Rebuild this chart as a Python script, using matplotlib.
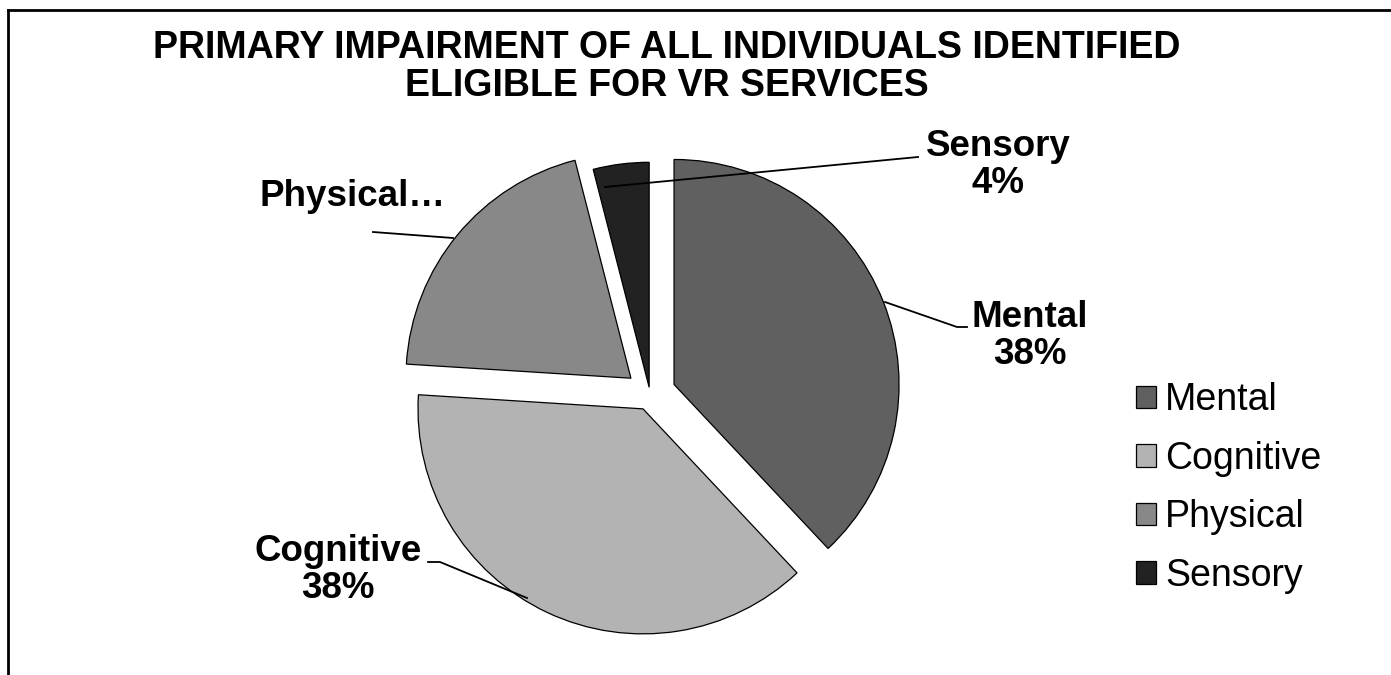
import matplotlib
matplotlib.use("Agg")
import matplotlib.pyplot as plt

plt.rcParams['font.family'] = ['Liberation Sans', 'DejaVu Sans']

# datos
categorias = ["Mental", "Cognitive", "Physical", "Sensory"]
porcentajes = [38, 38, 20, 4]
etiquetas = ["Mental\n38%", "Cognitive\n38%", "Physical…", "Sensory\n4%"]
colores = ["#606060", "#b3b3b3", "#888888", "#222222"]
separacion = [0.115, 0.073, 0.11, 0.03]  # fraccion del radio

W, H = 1391, 675
radio = 225


def py(y):
    # pixel y (desde arriba) -> coordenada de datos
    return H - y


fig = plt.figure(figsize=(W / 100, H / 100), dpi=100)
ax = fig.add_axes([0, 0, 1, 1])

wedges, _ = ax.pie(porcentajes, colors=colores, startangle=90, counterclock=False,
                   explode=[s * radio for s in separacion], radius=radio,
                   center=(650, py(394)),
                   wedgeprops=dict(edgecolor="black", linewidth=0.9))

ax.set_xlim(0, W)
ax.set_ylim(0, H)
ax.set_aspect("equal")
ax.axis("off")

# marco (solo arriba e izquierda visibles)
ax.plot([8, W], [py(10), py(10)], color="black", lw=2, clip_on=False)
ax.plot([8, 8], [py(10), 0], color="black", lw=2, clip_on=False)

# titulo
ax.text(667, py(67), "PRIMARY IMPAIRMENT OF ALL INDIVIDUALS IDENTIFIED\nELIGIBLE FOR VR SERVICES",
        ha="center", va="center", fontsize=27, fontweight="bold", linespacing=1.05)

# etiquetas y lineas guia
pos_etiquetas = [(1030, 336), (338, 570), (352, 197), (998, 165)]
guias = [
    [(885, 302), (957, 327), (967, 327)],
    [(527, 598), (440, 562), (428, 562)],
    [(453, 238), (373, 232)],
    [(605, 187), (918, 157)],
]
for txt, (x, y), g in zip(etiquetas, pos_etiquetas, guias):
    ax.text(x, py(y), txt, ha="center", va="center", fontsize=26.5,
            fontweight="bold", linespacing=1.1)
    ax.plot([p[0] for p in g], [py(p[1]) for p in g], color="black", lw=1.3)

leg = ax.legend(wedges, categorias, loc="center left", bbox_to_anchor=(1136 / W, py(488) / H),
                frameon=False, fontsize=27, handlelength=0.53, handleheight=0.53,
                handletextpad=0.25, labelspacing=0.6, borderpad=0, borderaxespad=0)

fig.savefig("out.png", dpi=100)
